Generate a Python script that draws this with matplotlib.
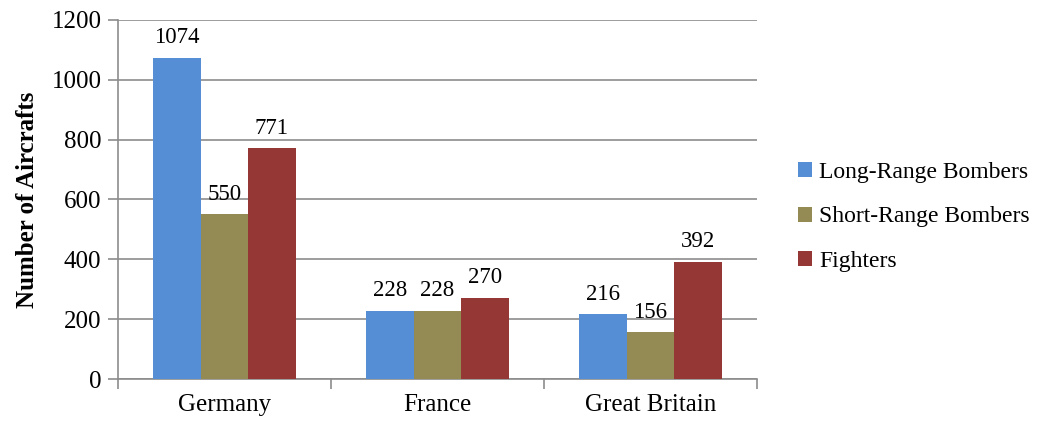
import matplotlib.pyplot as plt
import numpy as np

countries = ['Germany', 'France', 'Great Britain']
series = ['Long-Range Bombers', 'Short-Range Bombers', 'Fighters']
long_range = [1074, 228, 216]
short_range = [550, 228, 156]
fighters = [771, 270, 392]
colors = ['#558ED5', '#948A54', '#953735']

plt.rcParams['font.family'] = ['Liberation Serif', 'DejaVu Serif']

fig = plt.figure(figsize=(10.54, 4.23), dpi=100)
ax = fig.add_axes([0.112, 0.104, 0.606, 0.849])

x = np.arange(len(countries))
w = 0.223
for i, (vals, name) in enumerate(zip([long_range, short_range, fighters], series)):
    bars = ax.bar(x + (i - 1) * w, vals, w, color=colors[i], label=name, zorder=3)
    for b, v in zip(bars, vals):
        ax.annotate(str(v), (b.get_x() + b.get_width() / 2, v), xytext=(0, 7),
                    textcoords='offset points', ha='center', va='bottom', fontsize=16.5)

ax.set_xlim(-0.5, 2.5)
ax.set_ylim(0, 1200)
ax.set_yticks(range(0, 1201, 200))
ax.yaxis.grid(True, color='#8c8c8c', linewidth=1.2, zorder=0)
ax.set_axisbelow(True)

# group boundary ticks on x axis
ax.set_xticks([-0.5, 0.5, 1.5, 2.5])
ax.set_xticklabels([])
ax.set_xticks(x, minor=True)
ax.set_xticklabels(countries, minor=True, fontsize=18)
ax.tick_params(axis='x', which='minor', length=0, pad=11)
ax.tick_params(axis='x', which='major', length=7, width=1.2, color='#8c8c8c', direction='out')
ax.tick_params(axis='y', length=7, width=1.2, color='#8c8c8c', labelsize=18, pad=5)

ax.spines['top'].set_color('none')
ax.spines['right'].set_color('none')
ax.spines['left'].set_color('#8c8c8c')
ax.spines['bottom'].set_color('#8c8c8c')
ax.spines['left'].set_linewidth(1.2)
ax.spines['bottom'].set_linewidth(1.2)

ax.set_ylabel('Number of Aircrafts', fontsize=18, fontweight='bold', labelpad=9)

leg = fig.legend(loc='center left', bbox_to_anchor=(0.737, 0.487), frameon=False, fontsize=17,
                 handlelength=0.6, handleheight=0.6, handletextpad=0.3, labelspacing=1.0)

fig.savefig('out.png', dpi=100)
